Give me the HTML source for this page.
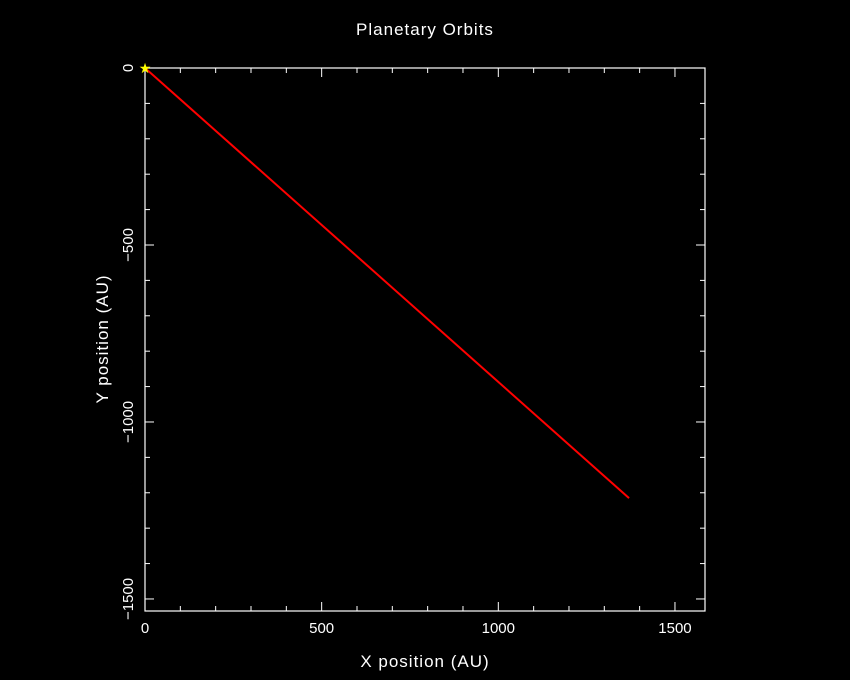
<!DOCTYPE html>
<html><head><meta charset="utf-8"><style>
html,body{margin:0;padding:0;background:#000;}
svg{display:block}
text{font-family:"Liberation Sans","DejaVu Sans",sans-serif;fill:#fff;font-size:15px}
.big{font-size:17px;letter-spacing:1px}
</style></head><body>
<svg id="chart" width="850" height="680" viewBox="0 0 850 680">
<rect width="850" height="680" fill="#000"/>
<text class="big" x="425" y="35" text-anchor="middle">Planetary Orbits</text>
<text class="big" x="425" y="667" text-anchor="middle">X position (AU)</text>
<text class="big" transform="translate(108,339) rotate(-90)" text-anchor="middle">Y position (AU)</text>
<g id="axes"></g>
<g id="marks"></g>
</svg>
<script>
const xTicks=[0,500,1000,1500];
const yTicks=[0,-500,-1000,-1500];
const orbitX=[0,1370];
const orbitY=[0,-1215];
const starX=[0];
const starY=[0];
const L=145,R=705,T=68,B=611;
const xMin=0,xMax=1585,yMax=0,yMin=-1534;
const sx=v=>L+(v-xMin)/(xMax-xMin)*(R-L);
const sy=v=>T+(yMax-v)/(yMax-yMin)*(B-T);
const NS='http://www.w3.org/2000/svg';
const axes=document.getElementById('axes'),marks=document.getElementById('marks');
function mk(tag,attrs,parent){const e=document.createElementNS(NS,tag);for(const k in attrs)e.setAttribute(k,attrs[k]);parent.appendChild(e);return e;}
const box=mk('rect',{x:L,y:T,width:R-L,height:B-T,fill:'none',stroke:'#fff','stroke-width':1.2},axes);


for(let v=0;v<=xMax;v+=100){const x=sx(v),len=(v%500===0)?9:5;
 mk('line',{x1:x,y1:B,x2:x,y2:B-len,stroke:'#fff'},axes);
 mk('line',{x1:x,y1:T,x2:x,y2:T+len,stroke:'#fff'},axes);}
for(let v=0;v>=yMin;v-=100){const y=sy(v),len=(v%500===0)?9:5;
 mk('line',{x1:L,y1:y,x2:L+len,y2:y,stroke:'#fff'},axes);
 mk('line',{x1:R,y1:y,x2:R-len,y2:y,stroke:'#fff'},axes);}
xTicks.forEach(v=>{const t=mk('text',{x:sx(v),y:B+22,'text-anchor':'middle'},axes);t.textContent=String(v);
 
 });
yTicks.forEach(v=>{const t=mk('text',{transform:`translate(${L-12},${sy(v)}) rotate(-90)`,'text-anchor':'middle'},axes);t.textContent=(v<0?'\u2212':'')+Math.abs(v);
 
 });
const pts=orbitX.map((x,i)=>sx(x)+','+sy(orbitY[i])).join(' ');
const line=mk('polyline',{points:pts,fill:'none',stroke:'#ff0000','stroke-width':2},marks);


starX.forEach((x,i)=>{const t=mk('text',{x:sx(x),y:sy(starY[i])+5,'text-anchor':'middle',style:'fill:#ffff00;font-size:14px'},marks);t.textContent='\u2605';
 
 });
</script>
</body></html>
